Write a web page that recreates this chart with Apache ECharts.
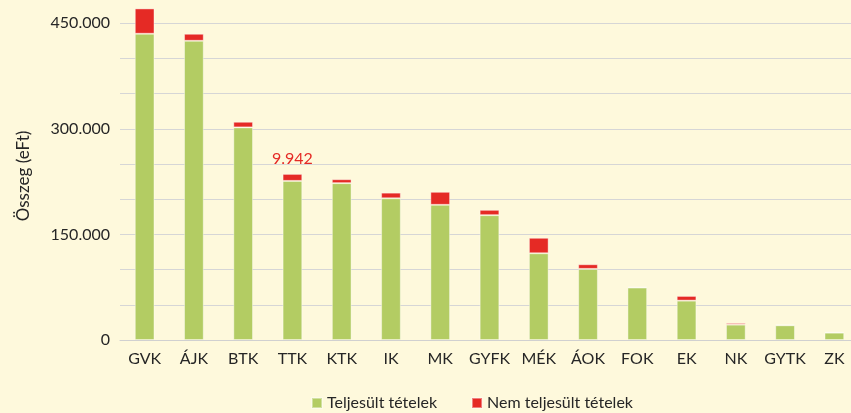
<!DOCTYPE html>
<html>
<head>
<meta charset="utf-8">
<script src="https://cdn.jsdelivr.net/npm/echarts@6/dist/echarts.min.js"></script>
<style>
  html, body { margin: 0; padding: 0; background: #fef9dc; }
  #chart { width: 851px; height: 413px; }
</style>
</head>
<body>
<div id="chart"></div>
<script>
// karok
const categories = ['GVK', 'ÁJK', 'BTK', 'TTK', 'KTK', 'IK', 'MK', 'GYFK', 'MÉK', 'ÁOK', 'FOK', 'EK', 'NK', 'GYTK', 'ZK'];
// eFt
const teljesult = [435000, 425000, 302000, 226000, 222800, 201300, 192000, 177300, 123200, 101000, 74400, 55900, 21800, 20900, 10400];
const nemTeljesult = [36000, 10000, 8000, 9942, 5600, 8000, 18500, 7600, 22000, 6600, 1300, 6700, 2400, 900, 1000];
const seriesNames = ['Teljesült tételek', 'Nem teljesült tételek'];

const fmt = function (v) {
    return String(v).replace(/\B(?=(\d{3})+(?!\d))/g, '.');
};

const chart = echarts.init(document.getElementById('chart'));

const option = {
    backgroundColor: '#fef9dc',
    textStyle: { fontFamily: 'Lato' },
    grid: { left: 120, right: -8, top: -12, bottom: 73, outerBoundsMode: 'none', containLabel: false },
    legend: {
        left: 306,
        top: 390,
        icon: 'rect',
        itemWidth: 10,
        itemHeight: 10,
        itemGap: 34,
        textStyle: { fontSize: 16, color: '#262626', fontFamily: 'Lato' },
        data: seriesNames
    },
    xAxis: {
        type: 'category',
        data: categories,
        axisTick: { show: false },
        axisLine: { lineStyle: { color: '#d0d0d0' } },
        axisLabel: { color: '#262626', fontSize: 16, margin: 11, interval: 0 }
    },
    yAxis: {
        type: 'value',
        min: 0,
        max: 500000,
        interval: 50000,
        name: 'Összeg (eFt)',
        nameLocation: 'middle',
        nameGap: 88,
        nameTextStyle: { color: '#262626', fontSize: 17, padding: [0, 24, 0, 0] },
        axisLabel: {
            color: '#262626',
            fontSize: 16,
            margin: 10,
            formatter: function (v) { return v % 150000 === 0 ? fmt(v) : ''; }
        },
        splitLine: { lineStyle: { color: '#d6d6d6', width: 1 } }
    },
    series: [
        {
            name: seriesNames[0],
            type: 'bar',
            stack: 'total',
            barWidth: '40%',
            data: teljesult,
            itemStyle: { color: '#b3cc63', borderColor: 'rgba(255,255,255,0.4)', borderWidth: 1 }
        },
        {
            name: seriesNames[1],
            type: 'bar',
            stack: 'total',
            barWidth: '40%',
            data: nemTeljesult.map(function (v, i) {
                if (categories[i] === 'TTK') {
                    return {
                        value: v,
                        label: {
                            show: true,
                            position: 'top',
                            distance: 7,
                            color: '#e52a25',
                            fontSize: 16,
                            formatter: function (p) { return fmt(p.value); }
                        }
                    };
                }
                return v;
            }),
            itemStyle: { color: '#e52a25', borderColor: 'rgba(255,255,255,0.4)', borderWidth: 1 }
        }
    ]
};

chart.setOption(option);
</script>
</body>
</html>
